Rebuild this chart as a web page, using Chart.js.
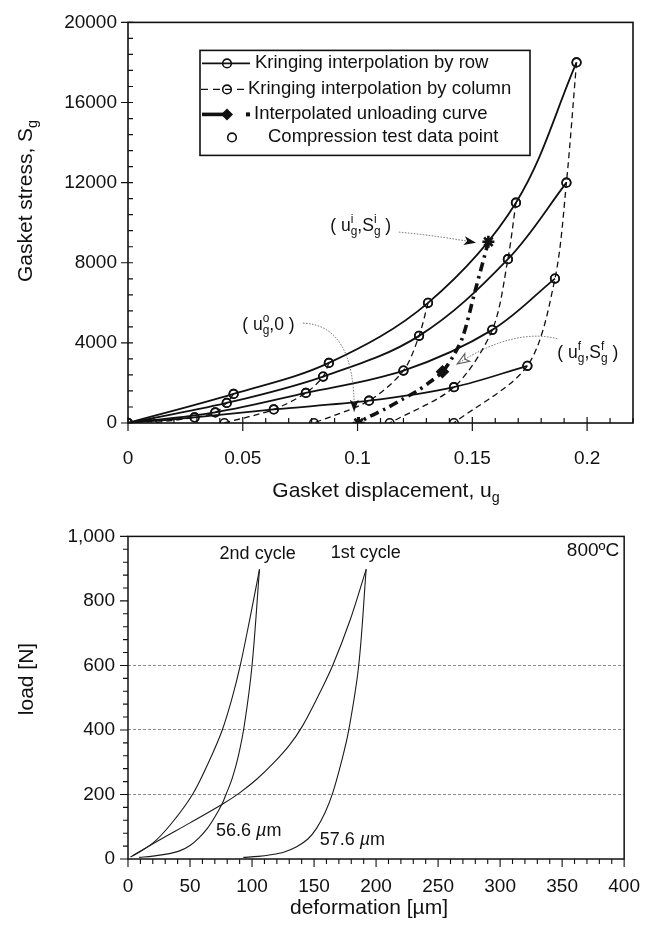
<!DOCTYPE html>
<html>
<head>
<meta charset="utf-8">
<script src="https://cdn.jsdelivr.net/npm/chart.js@4.4.1/dist/chart.umd.min.js"></script>
<style>
  html, body { margin: 0; padding: 0; background: #fff; }
  #wrap { position: relative; width: 656px; height: 928px; }
  #topChart { position: absolute; left: 0; top: 0; }
  #botChart { position: absolute; left: 0; top: 512px; }
</style>
</head>
<body>
<div id="wrap">
  <canvas id="topChart" width="656" height="512"></canvas>
  <canvas id="botChart" width="656" height="416"></canvas>
</div>
<script>
// ---- top chart: kriging rows (loading curves), gasket displacement vs stress ----
const row1X = [0, 0.046, 0.0875, 0.1307, 0.169, 0.1954];
const row1Y = [0, 1450, 3000, 6000, 11000, 18000];
const row2X = [0, 0.043, 0.085, 0.1268, 0.1655, 0.191];
const row2Y = [0, 1000, 2320, 4350, 8180, 12000];
const row3X = [0, 0.038, 0.0775, 0.120, 0.1587, 0.186];
const row3Y = [0, 530, 1500, 2615, 4650, 7210];
const row4X = [0, 0.029, 0.0635, 0.105, 0.142, 0.174];
const row4Y = [0, 280, 680, 1113, 1790, 2855];
// zero-stress end of every column
const baseX = [0, 0.0105, 0.042, 0.081, 0.114, 0.142];
// interpolated unloading curve
const unloadX = [0.157, 0.151, 0.146, 0.142, 0.137, 0.131, 0.126, 0.119, 0.112, 0.104, 0.1005];
const unloadY = [9050, 6500, 4350, 3400, 2560, 2000, 1600, 1150, 700, 250, 0];
const topXTicks = [0, 0.05, 0.1, 0.15, 0.2];
const topYTicks = [0, 4000, 8000, 12000, 16000, 20000];

// ---- bottom chart: load vs deformation at 800 C ----
const c1LoadX = [2, 25, 50, 77, 90, 104, 118, 130, 140, 152, 165, 179, 192];
const c1LoadY = [6, 58, 112, 172, 205, 248, 300, 352, 408, 495, 600, 740, 898];
const c1UnloadX = [192, 186, 178, 172, 165, 159, 152, 145, 136, 126, 115, 105, 93];
const c1UnloadY = [898, 600, 400, 300, 204, 145, 95, 62, 38, 22, 13, 8, 5];
const c2LoadX = [4, 20, 35, 52, 65, 76, 84, 90.5, 98, 106];
const c2LoadY = [10, 49, 110, 200, 300, 400, 500, 600, 740, 898];
const c2UnloadX = [106, 100, 94, 89, 84, 79, 76, 70, 64, 57, 50, 42, 31, 20, 9];
const c2UnloadY = [898, 600, 420, 320, 250, 200, 172, 130, 95, 65, 42, 26, 15, 9, 5];
const botXTicks = [0, 50, 100, 150, 200, 250, 300, 350, 400];
const botYTicks = [0, 200, 400, 600, 800, 1000];
const gridLoads = [200, 400, 600];

const FONT = "'Liberation Sans', Arial, Helvetica, sans-serif";
const INK = '#111';
Chart.defaults.font.family = FONT;
Chart.defaults.font.size = 19;
Chart.defaults.color = INK;

const pts = (xs, ys) => xs.map((x, i) => ({ x: x, y: ys[i] }));

// text with sub/superscripts: parts = [text, kind, italic]
function richText(ctx, parts, x, y, size, align) {
  const small = size * 0.68;
  const items = [];
  let cx = 0, subStart = 0;
  parts.forEach(([t, k, it]) => {
    const fs = k ? small : size;
    ctx.font = (it ? 'italic ' : '') + fs + 'px ' + FONT;
    const w = ctx.measureText(t).width;
    let px = cx, dy = 0;
    if (k === 'sub') { dy = size * 0.32; subStart = cx; }
    if (k === 'sup') dy = -size * 0.38;
    if (k === 'over') { px = subStart; dy = -size * 0.38; }
    items.push({ t, fs, it, px, dy });
    cx = k === 'over' ? Math.max(cx, px + w) : px + w;
  });
  const start = align === 'center' ? x - cx / 2 : align === 'right' ? x - cx : x;
  ctx.textAlign = 'left';
  ctx.textBaseline = 'middle';
  items.forEach(o => {
    ctx.font = (o.it ? 'italic ' : '') + o.fs + 'px ' + FONT;
    ctx.fillText(o.t, start + o.px, y + o.dy);
  });
}

function arrowHead(ctx, x, y, ang, len, wid, filled) {
  ctx.save();
  ctx.translate(x, y);
  ctx.rotate(ang);
  ctx.setLineDash([]);
  ctx.beginPath();
  ctx.moveTo(0, 0);
  ctx.lineTo(-len, -wid);
  ctx.lineTo(-len * 0.75, 0);
  ctx.lineTo(-len, wid);
  ctx.closePath();
  if (filled) ctx.fill(); else ctx.stroke();
  ctx.restore();
}

function curvedArrow(chart, s, c, e, filled) {
  const { ctx, scales: { x, y } } = chart;
  const P = p => [x.getPixelForValue(p[0]), y.getPixelForValue(p[1])];
  const [sx, sy] = P(s), [cx, cy] = P(c), [ex, ey] = P(e);
  ctx.save();
  ctx.strokeStyle = '#666';
  ctx.lineWidth = 1;
  ctx.setLineDash([1.5, 1.5]);
  ctx.beginPath();
  ctx.moveTo(sx, sy);
  ctx.quadraticCurveTo(cx, cy, ex, ey);
  ctx.stroke();
  ctx.fillStyle = INK;
  ctx.strokeStyle = filled ? INK : '#555';
  arrowHead(ctx, ex, ey, Math.atan2(ey - cy, ex - cx), 12, 4.5, filled);
  ctx.restore();
}

const fixTicks = list => axis => { axis.ticks = list.map(v => ({ value: v })); };

// ---------------- top chart ----------------
const rows = [[row1X, row1Y], [row2X, row2Y], [row3X, row3Y], [row4X, row4Y]];
const rowSets = rows.map(([xs, ys]) => ({
  data: pts(xs, ys),
  showLine: true,
  borderColor: INK,
  borderWidth: 1.8,
  tension: 0.35,
  pointRadius: 4.3,
  pointBorderWidth: 1.6,
  pointBorderColor: INK,
  pointBackgroundColor: 'rgba(0,0,0,0)'
}));
const colSets = [];
for (let j = 1; j < baseX.length; j++) {
  const d = rows.map(([xs, ys]) => ({ x: xs[j], y: ys[j] }));
  d.push({ x: baseX[j], y: 0 });
  colSets.push({
    data: d,
    showLine: true,
    borderColor: INK,
    borderWidth: 1.3,
    borderDash: [6, 4],
    tension: 0.3,
    pointRadius: 4.3,
    pointBorderWidth: 1.6,
    pointBorderColor: INK,
    pointBackgroundColor: 'rgba(0,0,0,0)'
  });
}
const unloadSet = {
  data: pts(unloadX, unloadY),
  showLine: true,
  borderColor: INK,
  borderWidth: 3.6,
  borderDash: [9, 5, 2.5, 5],
  tension: 0.3,
  pointStyle: unloadX.map((v, i) => i === 4 ? 'rectRot' : 'star'),
  pointRadius: unloadX.map((v, i) => (i === 0 || i === unloadX.length - 1) ? 6 : i === 4 ? 5 : 0),
  pointBorderWidth: 2.6,
  pointBorderColor: INK,
  pointBackgroundColor: INK
};

const topDecor = {
  id: 'topDecor',
  afterDraw(chart) {
    const { ctx, chartArea: a, scales: { x, y } } = chart;
    ctx.save();
    ctx.strokeStyle = INK;
    ctx.fillStyle = INK;
    ctx.lineWidth = 1.6;
    ctx.strokeRect(a.left, a.top, a.right - a.left, a.bottom - a.top);
    // ticks: minor inward, major crossing the axis
    ctx.lineWidth = 1.2;
    ctx.beginPath();
    for (let v = 0; v <= 0.2201; v += 0.01) {
      const px = x.getPixelForValue(v);
      ctx.moveTo(px, a.bottom); ctx.lineTo(px, a.bottom - 5);
    }
    topXTicks.forEach(v => {
      const px = x.getPixelForValue(v);
      ctx.moveTo(px, a.bottom - 6); ctx.lineTo(px, a.bottom + 8);
    });
    for (let v = 0; v <= 20000; v += 800) {
      const py = y.getPixelForValue(v);
      ctx.moveTo(a.left, py); ctx.lineTo(a.left + 5, py);
    }
    topYTicks.forEach(v => {
      const py = y.getPixelForValue(v);
      ctx.moveTo(a.left - 7, py); ctx.lineTo(a.left + 5, py);
    });
    ctx.stroke();

    // axis titles
    richText(ctx, [['Gasket displacement, u'], ['g', 'sub']], 386, 491, 21, 'center');
    ctx.save();
    ctx.translate(26, 201);
    ctx.rotate(-Math.PI / 2);
    richText(ctx, [['Gasket stress, S'], ['g', 'sub']], 0, 0, 21, 'center');
    ctx.restore();

    // legend box
    const L = a.left + 72, T = a.top + 28, R = a.left + 402, B = a.top + 133;
    ctx.fillStyle = '#fff';
    ctx.fillRect(L, T, R - L, B - T);
    ctx.fillStyle = INK;
    ctx.lineWidth = 1.6;
    ctx.strokeRect(L, T, R - L, B - T);
    const ys = [T + 13, T + 39, T + 64, T + 87];
    ctx.lineWidth = 1.8;
    ctx.beginPath(); ctx.moveTo(L + 2, ys[0]); ctx.lineTo(L + 50, ys[0]); ctx.stroke();
    ctx.lineWidth = 1.6;
    ctx.beginPath(); ctx.arc(L + 27, ys[0], 4.3, 0, Math.PI * 2); ctx.stroke();
    ctx.lineWidth = 1.3;
    ctx.setLineDash([7, 5]);
    ctx.beginPath(); ctx.moveTo(L + 1, ys[1]); ctx.lineTo(L + 44, ys[1]); ctx.stroke();
    ctx.setLineDash([]);
    ctx.lineWidth = 1.6;
    ctx.beginPath(); ctx.arc(L + 27, ys[1], 4.3, 0, Math.PI * 2); ctx.stroke();
    ctx.lineWidth = 3.6;
    ctx.beginPath(); ctx.moveTo(L + 2, ys[2]); ctx.lineTo(L + 24, ys[2]); ctx.stroke();
    ctx.beginPath();
    ctx.moveTo(L + 27, ys[2] - 6); ctx.lineTo(L + 33, ys[2]); ctx.lineTo(L + 27, ys[2] + 6); ctx.lineTo(L + 21, ys[2]);
    ctx.closePath(); ctx.fill();
    ctx.fillRect(L + 46, ys[2] - 2, 4, 4);
    ctx.lineWidth = 1.6;
    ctx.beginPath(); ctx.arc(L + 32, ys[3], 4.3, 0, Math.PI * 2); ctx.stroke();
    ctx.font = '18.5px ' + FONT;
    ctx.textAlign = 'left';
    ctx.textBaseline = 'middle';
    ctx.fillText('Kringing interpolation by row', L + 55, ys[0]);
    ctx.fillText('Kringing interpolation by column', L + 48, ys[1]);
    ctx.fillText('Interpolated unloading curve', L + 54, ys[2]);
    ctx.fillText('Compression test data point', L + 68, ys[3]);

    // point annotations
    const X = v => x.getPixelForValue(v), Y = v => y.getPixelForValue(v);
    richText(ctx, [['( u'], ['g', 'sub'], ['i', 'over'], [',S'], ['g', 'sub'], ['i', 'over'], [' )']],
      X(0.1014), Y(9825), 17.5, 'center');
    richText(ctx, [['( u'], ['g', 'sub'], ['o', 'over'], [',0 )']], X(0.0612), Y(4890), 17.5, 'center');
    richText(ctx, [['( u'], ['g', 'sub'], ['f', 'over'], [',S'], ['g', 'sub'], ['f', 'over'], [' )']],
      X(0.2003), Y(3485), 17.5, 'center');
    curvedArrow(chart, [0.118, 9530], [0.135, 9350], [0.1516, 9000], true);
    curvedArrow(chart, [0.0762, 4985], [0.099, 4900], [0.0985, 560], true);
    curvedArrow(chart, [0.187, 4210], [0.168, 4750], [0.1434, 2950], false);
    ctx.restore();
  }
};

new Chart(document.getElementById('topChart'), {
  type: 'scatter',
  data: { datasets: [...colSets, ...rowSets, unloadSet] },
  options: {
    responsive: false,
    animation: false,
    events: [],
    layout: { padding: { left: 0, right: 23, top: 10, bottom: 0 } },
    plugins: { legend: { display: false }, tooltip: { enabled: false } },
    scales: {
      x: {
        type: 'linear', min: 0, max: 0.22,
        afterBuildTicks: fixTicks(topXTicks),
        afterFit: s => { s.height = 89; },
        grid: { display: false, drawTicks: false },
        border: { display: false },
        ticks: { padding: 24, color: INK, callback: v => String(+v.toFixed(2)) }
      },
      y: {
        type: 'linear', min: 0, max: 20000,
        afterBuildTicks: fixTicks(topYTicks),
        afterFit: s => { s.width = 128; },
        grid: { display: false, drawTicks: false },
        border: { display: false },
        ticks: { padding: 11, color: INK, callback: v => String(v) }
      }
    }
  },
  plugins: [topDecor]
});

// ---------------- bottom chart ----------------
const curve = (xs, ys) => ({
  data: pts(xs, ys),
  showLine: true,
  borderColor: '#1a1a1a',
  borderWidth: 1.1,
  tension: 0.35,
  pointRadius: 0
});

const botDecor = {
  id: 'botDecor',
  afterDraw(chart) {
    const { ctx, chartArea: a, scales: { x, y } } = chart;
    ctx.save();
    ctx.strokeStyle = INK;
    ctx.fillStyle = INK;
    ctx.lineWidth = 1.5;
    ctx.strokeRect(a.left, a.top, a.right - a.left, a.bottom - a.top);
    ctx.lineWidth = 1.1;
    ctx.beginPath();
    for (let v = 0; v <= 400; v += 10) {
      const px = x.getPixelForValue(v);
      ctx.moveTo(px, a.bottom); ctx.lineTo(px, a.bottom + (v % 50 === 0 ? 8 : 5));
    }
    for (let v = 0; v <= 1000; v += 40) {
      const py = y.getPixelForValue(v);
      ctx.moveTo(a.left, py); ctx.lineTo(a.left - 5, py);
    }
    botYTicks.forEach(v => {
      const py = y.getPixelForValue(v);
      ctx.moveTo(a.left, py); ctx.lineTo(a.left - 8, py);
    });
    ctx.stroke();

    ctx.font = '21px ' + FONT;
    ctx.textAlign = 'center';
    ctx.textBaseline = 'middle';
    ctx.fillText('deformation [\u00b5m]', 369, 396);
    ctx.save();
    ctx.translate(27, 167);
    ctx.rotate(-Math.PI / 2);
    ctx.fillText('load [N]', 0, 0);
    ctx.restore();

    const X = v => x.getPixelForValue(v), Y = v => y.getPixelForValue(v);
    ctx.font = '18px ' + FONT;
    ctx.fillText('2nd cycle', X(104.5), Y(944));
    ctx.fillText('1st cycle', X(191.7), Y(947));
    ctx.textAlign = 'right';
    ctx.font = '19px ' + FONT;
    ctx.fillText('800\u00baC', X(396), Y(957));
    richText(ctx, [['56.6 '], ['\u00b5', '', true], ['m']], X(71), Y(86), 18, 'left');
    richText(ctx, [['57.6 '], ['\u00b5', '', true], ['m']], X(154.5), Y(59), 18, 'left');
    ctx.restore();
  }
};

new Chart(document.getElementById('botChart'), {
  type: 'scatter',
  data: {
    datasets: [
      curve(c1LoadX, c1LoadY),
      curve(c1UnloadX, c1UnloadY),
      curve(c2LoadX, c2LoadY),
      curve(c2UnloadX, c2UnloadY)
    ]
  },
  options: {
    responsive: false,
    animation: false,
    events: [],
    layout: { padding: { left: 0, right: 23, top: 23, bottom: 0 } },
    plugins: { legend: { display: false }, tooltip: { enabled: false } },
    scales: {
      x: {
        type: 'linear', min: 0, max: 400,
        afterBuildTicks: fixTicks(botXTicks),
        afterFit: s => { s.height = 69; },
        grid: { display: false, drawTicks: false },
        border: { display: false },
        ticks: { padding: 16, color: INK }
      },
      y: {
        type: 'linear', min: 0, max: 1000,
        afterBuildTicks: fixTicks(botYTicks),
        afterFit: s => { s.width = 128; },
        grid: {
          drawTicks: false,
          lineWidth: 1,
          color: c => gridLoads.includes(c.tick && c.tick.value) ? '#8c8c8c' : 'rgba(0,0,0,0)'
        },
        border: { display: false, dash: [3, 2] },
        ticks: { padding: 13, color: INK, callback: v => v.toLocaleString('en-US') }
      }
    }
  },
  plugins: [botDecor]
});
</script>
</body>
</html>
